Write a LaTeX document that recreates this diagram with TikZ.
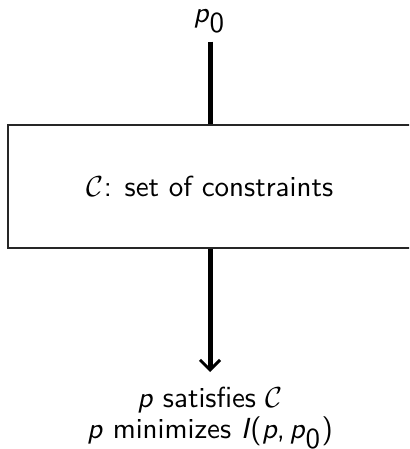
\documentclass[tikz,border=0pt]{standalone}
\usepackage{fontspec}
\usepackage{graphicx}
\usetikzlibrary{arrows.meta}
% all labels are set at 10pt and enlarged as a whole
\newcommand{\enlarged}[1]{\scalebox{2.9}{#1}}
\begin{document}
\begin{tikzpicture}[x=1pt,y=-1pt,
  every node/.style={font=\sffamily, inner sep=0pt},
  frame/.style={draw=black!85, line width=1.3pt, minimum width=404pt, minimum height=123pt},
  flow/.style={line width=5pt},
  tip/.style={-{Straight Barb[length=10pt,width=20pt,line width=3pt]}},
]
\useasboundingbox (0,0) rectangle (409,449);
\clip (0,0) rectangle (409,449);
% input distribution
\node[anchor=base] (p0) at (209.5,23) {\enlarged{\textit{p}$_{\textsf{0}}$}};
% constraint block
\node[frame] (box) at (210,186.5) {\enlarged{$\mathcal{C}$: set of constraints}};
% result
\node[anchor=north] (res) at (210,387)
  {\enlarged{\def\arraystretch{0.85}\begin{tabular}{@{}c@{}}
    \textit{p} satisfies $\mathcal{C}$\\
    \textit{p} minimizes \textit{I}(\textit{p},\,\textit{p}$_{\textsf{0}}$)
  \end{tabular}}};
% connectors
\draw[flow, shorten <=8pt] (box.north |- p0.south) -- (box.north);
\draw[flow, tip, shorten >=15pt] (box.south) -- (box.south |- res.north);
\end{tikzpicture}
\end{document}
